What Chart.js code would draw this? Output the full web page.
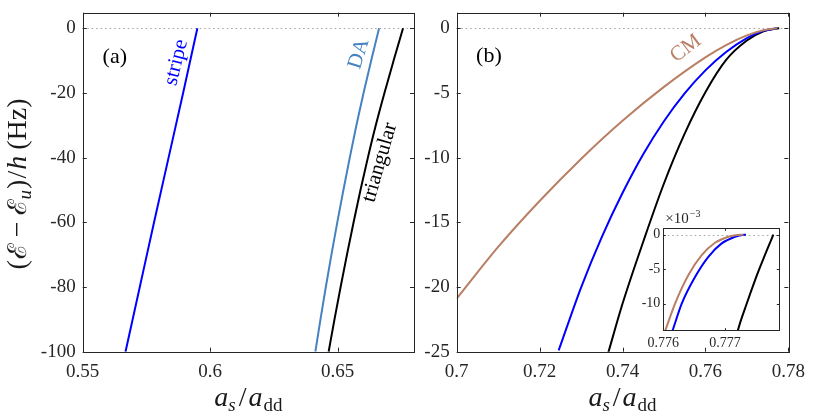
<!DOCTYPE html>
<html>
<head>
<meta charset="utf-8">
<script src="https://cdn.jsdelivr.net/npm/chart.js@4.4.0/dist/chart.umd.min.js"></script>
<style>
html,body{margin:0;padding:0;background:#fff;}
#wrap{position:relative;width:830px;height:415px;overflow:hidden;background:#fff;}
canvas{position:absolute;}
</style>
</head>
<body>
<div id="wrap">
  <canvas id="ca" width="418" height="415" style="left:0;top:0;width:418px;height:415px"></canvas>
  <canvas id="cb" width="412" height="415" style="left:418px;top:0;width:412px;height:415px"></canvas>
  <canvas id="ci" width="170" height="145" style="left:620px;top:205px;width:170px;height:145px"></canvas>
</div>
<script>
// panel (a)
const aXTicks = [0.55, 0.6, 0.65];
const aXLabels = ['0.55', '0.6', '0.65'];
const aYTicks = [-100, -80, -60, -40, -20, 0];
const aYLabels = ['-100', '-80', '-60', '-40', '-20', '0'];

const stripeX = [0.5668, 0.5724, 0.5780, 0.5837, 0.5894, 0.5950];
const stripeY = [-100, -80, -60, -40, -20, 0];
const daX = [0.6413, 0.6433, 0.6454, 0.6476, 0.6499, 0.6523, 0.6548, 0.6574, 0.6602, 0.6632, 0.6663];
const daY = [-100, -90, -80, -70, -60, -50, -40, -30, -20, -10, 0];
const triX = [0.6465, 0.6488, 0.6512, 0.6537, 0.6563, 0.6590, 0.6619, 0.6650, 0.6684, 0.6720, 0.6757];
const triY = [-100, -90, -80, -70, -60, -50, -40, -30, -20, -10, 0];

// panel (b)
const bXTicks = [0.7, 0.72, 0.74, 0.76, 0.78];
const bXLabels = ['0.7', '0.72', '0.74', '0.76', '0.78'];
const bYTicks = [-25, -20, -15, -10, -5, 0];
const bYLabels = ['-25', '-20', '-15', '-10', '-5', '0'];

const cmX = [0.700, 0.710, 0.720, 0.730, 0.740, 0.750, 0.760, 0.765, 0.770, 0.774, 0.7773];
const cmY = [-20.9, -16.9, -13.35, -10.1, -7.15, -4.53, -2.25, -1.30, -0.55, -0.15, 0];
const blueX = [0.7246, 0.730, 0.735, 0.740, 0.745, 0.750, 0.755, 0.760, 0.765, 0.770, 0.774, 0.7773];
const blueY = [-24.9, -20.04, -16.14, -12.74, -9.74, -7.19, -5.04, -3.26, -1.84, -0.76, -0.2, 0];
const blackX = [0.7366, 0.740, 0.745, 0.750, 0.755, 0.760, 0.765, 0.770, 0.774, 0.7778];
const blackY = [-25.04, -21.3, -16.5, -12.0, -8.15, -4.95, -2.45, -0.95, -0.23, 0];

// inset (y in units of 1e-3)
const iXTicks = [0.776, 0.777];
const iXLabels = ['0.776', '0.777'];
const iYTicks = [-10, -5, 0];
const iYLabels = ['-10', '-5', '0'];
const cmInX = [0.776000, 0.776027, 0.776189, 0.776405, 0.776622, 0.776838, 0.777054, 0.777200, 0.777300];
const cmInY = [-14.6, -13.98, -10.0, -5.87, -2.96, -1.17, -0.29, -0.03, 0];
const blueInX = [0.776120, 0.776146, 0.776297, 0.776514, 0.776730, 0.776946, 0.777162, 0.777280, 0.777340];
const blueInY = [-14.6, -13.98, -10.0, -6.12, -3.2, -1.26, -0.29, -0.03, 0];
const blackInX = [0.777190, 0.777205, 0.777351, 0.777486, 0.777622, 0.777784];
const blackInY = [-14.6, -13.98, -10.0, -6.6, -3.5, 0];

const BLUE = '#0000ff', DA = '#4682c0', BLACK = '#000000', BROWN = '#b97f64';
const AX = '#262626';
const SERIF = "'Liberation Serif', 'DejaVu Serif', serif";

const pts = (xs, ys) => xs.map((x, i) => ({x: x, y: ys[i]}));
const line = (xs, ys, c) => ({
  data: pts(xs, ys), borderColor: c, borderWidth: 2, showLine: true,
  pointRadius: 0, fill: false, cubicInterpolationMode: 'monotone'
});

function richWidth(ctx, parts){
  let w = 0;
  for (const p of parts){ ctx.font = p.f; w += ctx.measureText(p.t).width + (p.gap || 0); }
  return w;
}
function drawRich(ctx, parts, x, y){
  let cx = x - richWidth(ctx, parts) / 2;
  ctx.textAlign = 'left'; ctx.textBaseline = 'alphabetic';
  for (const p of parts){
    ctx.font = p.f;
    ctx.fillText(p.t, cx, y + (p.dy || 0));
    cx += ctx.measureText(p.t).width + (p.gap || 0);
  }
}

// box, inward ticks, dotted zero line, notes
const framePlugin = {
  id: 'frame',
  beforeDatasetsDraw(chart, args, o){
    const {ctx, chartArea: a} = chart;
    const y = chart.scales.y;
    ctx.save();
    if (o.fill){ ctx.fillStyle = '#fff'; ctx.fillRect(a.left, a.top, a.width, a.height); }
    const y0 = Math.round(y.getPixelForValue(0)) + 0.5;
    ctx.strokeStyle = '#a0a0a0'; ctx.lineWidth = 1; ctx.setLineDash([1.5, 3]);
    ctx.beginPath(); ctx.moveTo(a.left, y0); ctx.lineTo(a.right, y0); ctx.stroke();
    ctx.restore();
  },
  afterDatasetsDraw(chart, args, o){
    const {ctx, chartArea: a} = chart;
    const {x, y} = chart.scales;
    const L = o.tick || 4;
    ctx.save();
    ctx.strokeStyle = AX; ctx.lineWidth = 1;
    ctx.beginPath();
    for (const t of x.ticks){
      const px = Math.round(x.getPixelForValue(t.value)) + 0.5;
      ctx.moveTo(px, a.bottom); ctx.lineTo(px, a.bottom - L);
      ctx.moveTo(px, a.top); ctx.lineTo(px, a.top + L);
    }
    for (const t of y.ticks){
      const py = Math.round(y.getPixelForValue(t.value)) + 0.5;
      ctx.moveTo(a.left, py); ctx.lineTo(a.left + L, py);
      ctx.moveTo(a.right, py); ctx.lineTo(a.right - L, py);
    }
    ctx.stroke();
    ctx.strokeRect(Math.round(a.left) + 0.5, Math.round(a.top) + 0.5,
                   Math.round(a.width), Math.round(a.height));
    // curve labels
    for (const n of (o.notes || [])){
      ctx.save();
      ctx.translate(x.getPixelForValue(n.x), y.getPixelForValue(n.y));
      ctx.rotate((n.rot || 0) * Math.PI / 180);
      ctx.font = (n.size || 21) + 'px ' + SERIF;
      ctx.fillStyle = n.color || '#000';
      ctx.textAlign = 'center'; ctx.textBaseline = 'middle';
      ctx.fillText(n.text, 0, 0);
      ctx.restore();
    }
    // axis titles
    ctx.fillStyle = '#1a1a1a';
    if (o.xTitle){
      const f = '28px ' + SERIF, fi = 'italic 28px ' + SERIF;
      const fs = '19px ' + SERIF, fsi = 'italic 19px ' + SERIF;
      drawRich(ctx, [
        {t: 'a', f: fi}, {t: 's', f: fsi, dy: 5, gap: 3},
        {t: '/', f: f, gap: 2}, {t: 'a', f: fi, gap: 1}, {t: 'dd', f: fs, dy: 5}
      ], (a.left + a.right) / 2, 406);
    }
    if (o.yTitle){
      const f = '28px ' + SERIF, fi = 'italic 28px ' + SERIF, fsi = 'italic 19px ' + SERIF;
      const fe = "26px 'DejaVu Serif', serif";
      ctx.save();
      ctx.translate(26, 184);
      ctx.rotate(-Math.PI / 2);
      drawRich(ctx, [
        {t: '(', f: f, gap: 1}, {t: 'ℰ', f: fe, gap: 6}, {t: '−', f: f, gap: 6},
        {t: 'ℰ', f: fe}, {t: 'u', f: fsi, dy: 5, gap: 1}, {t: ')', f: f, gap: 1},
        {t: '/', f: f, gap: 1}, {t: 'h', f: fi, gap: 6}, {t: '(Hz)', f: f}
      ], 0, 0);
      ctx.restore();
    }
    if (o.exponent){
      ctx.font = '15px ' + SERIF; ctx.textAlign = 'left'; ctx.textBaseline = 'alphabetic';
      ctx.fillStyle = AX;
      ctx.fillText('×10', a.left + 2, a.top - 5);
      const w = ctx.measureText('×10').width;
      ctx.font = '10px ' + SERIF;
      ctx.fillText('−3', a.left + 3 + w, a.top - 11);
    }
    ctx.restore();
  }
};

function axis(min, max, ticks, labels, size, pad, fit){
  return {
    type: 'linear', min: min, max: max,
    grid: {display: false, drawTicks: false},
    border: {display: false},
    ticks: {
      font: {family: SERIF, size: size}, color: AX, padding: pad,
      autoSkip: false, maxRotation: 0,
      callback: (v) => labels[ticks.indexOf(v)]
    },
    afterBuildTicks(s){ s.ticks = ticks.map(v => ({value: v})); },
    afterFit: fit
  };
}

function makeChart(id, datasets, xs, ys, padding, frame){
  return new Chart(document.getElementById(id), {
    type: 'scatter',
    data: {datasets: datasets},
    options: {
      responsive: false, animation: false,
      layout: {padding: padding},
      scales: {x: xs, y: ys},
      plugins: {legend: {display: false}, tooltip: {enabled: false}, frame: frame}
    },
    plugins: [framePlugin]
  });
}

// (a): plot box 82.7..414 x 12.7..351.7
makeChart('ca',
  [line(stripeX, stripeY, BLUE), line(daX, daY, DA), line(triX, triY, BLACK)],
  axis(0.55, 0.68, aXTicks, aXLabels, 19, 9, s => { s.height = 63.3; s.paddingLeft = 0; s.paddingRight = 0; }),
  axis(-100, 4.8, aYTicks, aYLabels, 19, 7, s => { s.width = 82.7; s.paddingTop = 0; s.paddingBottom = 0; }),
  {top: 12.7, right: 4, left: 0, bottom: 0},
  {tick: 4, xTitle: true, yTitle: true, notes: [
    {text: '(a)', x: 0.5626, y: -8.9, size: 22},
    {text: 'stripe', x: 0.5867, y: -10.6, rot: -76, color: BLUE},
    {text: 'DA', x: 0.6584, y: -7.9, rot: -73, color: DA},
    {text: 'triangular', x: 0.6666, y: -41.5, rot: -74, color: BLACK}
  ]});

// (b): plot box 456.7..788.3 x 12.7..351.7
makeChart('cb',
  [line(cmX, cmY, BROWN), line(blueX, blueY, BLUE), line(blackX, blackY, BLACK)],
  axis(0.7, 0.78, bXTicks, bXLabels, 19, 9, s => { s.height = 63.3; s.paddingLeft = 0; s.paddingRight = 0; }),
  axis(-25, 1.2, bYTicks, bYLabels, 19, 7, s => { s.width = 38.7; s.paddingTop = 0; s.paddingBottom = 0; }),
  {top: 12.7, right: 41.7, left: 0, bottom: 0},
  {tick: 4, xTitle: true, notes: [
    {text: '(b)', x: 0.70778, y: -2.19, size: 22},
    {text: 'CM', x: 0.75525, y: -1.56, rot: -37, color: BROWN}
  ]});

// inset: plot box 663.3..779.3 x 228.3..330.7
makeChart('ci',
  [line(cmInX, cmInY, BROWN), line(blueInX, blueInY, BLUE), line(blackInX, blackInY, BLACK)],
  axis(0.776, 0.77788, iXTicks, iXLabels, 14, 4, s => { s.height = 19.3; s.paddingLeft = 0; s.paddingRight = 0; }),
  axis(-13.9, 0.93, iYTicks, iYLabels, 14, 3, s => { s.width = 43.3; s.paddingTop = 0; s.paddingBottom = 0; }),
  {top: 23.3, right: 10.7, left: 0, bottom: 0},
  {tick: 2.5, fill: true, exponent: true});
</script>
</body>
</html>
